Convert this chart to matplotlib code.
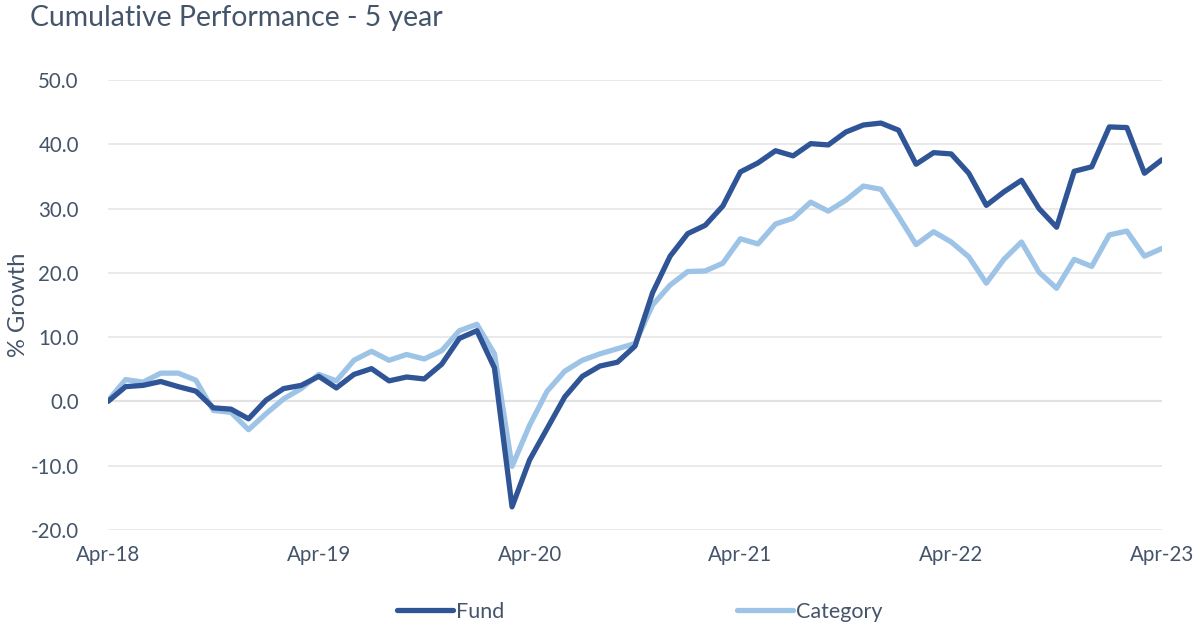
import matplotlib
matplotlib.use("Agg")
import matplotlib.pyplot as plt
import numpy as np

fund = [0.0, 2.3, 2.5, 3.1, 2.3, 1.6, -1.0, -1.2, -2.7, 0.2, 2.0, 2.5,
        3.9, 2.1, 4.2, 5.1, 3.2, 3.8, 3.5, 5.8, 9.8, 11.0, 5.2, -16.4,
        -9.1, -4.2, 0.7, 3.9, 5.5, 6.1, 8.6, 16.9, 22.6, 26.1, 27.4, 30.4,
        35.7, 37.1, 39.0, 38.2, 40.1, 39.9, 41.9, 43.0, 43.3, 42.2, 36.9, 38.7,
        38.5, 35.5, 30.5, 32.6, 34.4, 30.0, 27.1, 35.8, 36.5, 42.7, 42.6, 35.5,
        37.6]
category = [0.1, 3.4, 3.0, 4.4, 4.4, 3.3, -1.4, -1.7, -4.4, -1.9, 0.4, 2.0,
            4.2, 3.2, 6.4, 7.8, 6.4, 7.3, 6.6, 7.9, 11.0, 12.0, 7.4, -10.1,
            -3.7, 1.6, 4.7, 6.4, 7.4, 8.2, 9.0, 15.0, 18.1, 20.2, 20.3, 21.5,
            25.3, 24.5, 27.6, 28.5, 31.0, 29.6, 31.3, 33.5, 33.0, 28.8, 24.4, 26.4,
            24.8, 22.5, 18.4, 22.1, 24.8, 20.1, 17.6, 22.1, 21.0, 25.9, 26.5, 22.6,
            23.8]
tick_labels = ["Apr-18", "Apr-19", "Apr-20", "Apr-21", "Apr-22", "Apr-23"]
y_ticks = [-20, -10, 0, 10, 20, 30, 40, 50]

TXT = "#44546a"
plt.rcParams['font.family'] = ['Lato', 'DejaVu Sans']

fig = plt.figure(figsize=(12.03, 6.30), dpi=100)
ax = fig.add_axes([108/1203, 1-530/630, (1162-108)/1203, (530-80)/630])

x = np.arange(len(fund))
ax.plot(x, category, color="#9dc3e6", lw=3.8, label="Category", solid_joinstyle='round', solid_capstyle='round', zorder=3)
ax.plot(x, fund, color="#2f5597", lw=3.8, label="Fund", solid_joinstyle='round', solid_capstyle='round', zorder=4)

ax.set_xlim(0, len(fund)-1)
ax.set_ylim(-20, 50)
ax.set_yticks(y_ticks)
ax.set_yticklabels([f"{v:.1f}" for v in y_ticks])
ax.set_xticks(np.arange(0, len(fund), 12))
ax.set_xticklabels(tick_labels)
for s in ax.spines.values():
    s.set_visible(False)
ax.grid(axis='y', color="#e6e6e6", lw=1.2, zorder=0)
ax.axhline(0, color="#d0d0d0", lw=1.5, zorder=1)
ax.tick_params(axis='both', length=0, labelsize=14.8, colors=TXT)
ax.tick_params(axis='y', pad=21)
ax.tick_params(axis='x', pad=11)
ax.set_ylabel("% Growth", fontsize=17, color=TXT, va='center')
ax.yaxis.set_label_coords((19 - 108) / 1054, (530 - 305) / 450)

fig.text(30/1203, 1-18/630, "Cumulative Performance - 5 year", fontsize=20.4, color=TXT, va='center', ha='left')

h, l = ax.get_legend_handles_labels()
fig.legend([h[1], h[0]], [l[1], l[0]], loc='center', bbox_to_anchor=(640/1203, 1-612/630), ncol=2,
           frameon=False, fontsize=15.5, labelcolor=TXT, columnspacing=10.8, handlelength=2.6, handletextpad=0.15)

fig.savefig("out.png", dpi=100)
